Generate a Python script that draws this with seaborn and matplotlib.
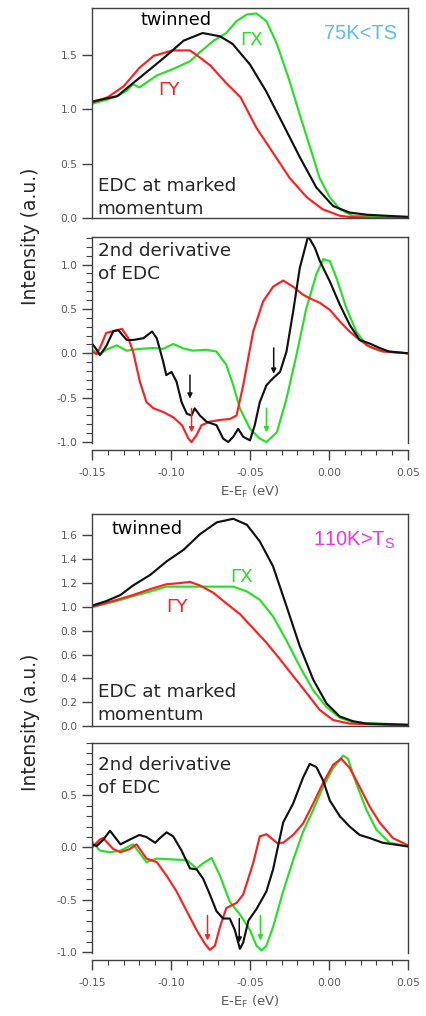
import numpy as np
import pandas as pd
import matplotlib
matplotlib.use("Agg")
import matplotlib.pyplot as plt
import seaborn as sns
from matplotlib.ticker import MultipleLocator, FormatStrFormatter

# ---------------- data ----------------
# Panel 1: EDC, 75K < Ts
p1_red_x = [-0.150, -0.140, -0.130, -0.120, -0.111, -0.099, -0.088, -0.084, -0.075, -0.065,
            -0.056, -0.046, -0.035, -0.025, -0.014, -0.004, 0.007, 0.013, 0.030, 0.050]
p1_red_y = [1.06, 1.11, 1.21, 1.38, 1.49, 1.54, 1.54, 1.50, 1.40, 1.24,
            1.11, 0.83, 0.59, 0.37, 0.19, 0.08, 0.02, 0.01, 0.00, 0.00]
p1_blk_x = [-0.150, -0.134, -0.124, -0.113, -0.103, -0.092, -0.080, -0.069, -0.061, -0.050,
            -0.040, -0.029, -0.0185, -0.008, 0.0026, 0.013, 0.024, 0.050]
p1_blk_y = [1.07, 1.12, 1.24, 1.37, 1.49, 1.63, 1.70, 1.67, 1.60, 1.41,
            1.17, 0.86, 0.56, 0.28, 0.11, 0.05, 0.03, 0.01]
p1_grn_x = [-0.150, -0.140, -0.134, -0.128, -0.124, -0.120, -0.109, -0.0986, -0.088, -0.082,
            -0.073, -0.065, -0.0585, -0.052, -0.046, -0.0396, -0.033, -0.025, -0.0185, -0.012,
            -0.006, 0.0005, 0.007, 0.015, 0.050]
p1_grn_y = [1.05, 1.09, 1.12, 1.17, 1.23, 1.20, 1.31, 1.37, 1.44, 1.52,
            1.63, 1.70, 1.81, 1.87, 1.88, 1.81, 1.60, 1.26, 0.95, 0.65,
            0.37, 0.19, 0.08, 0.02, 0.01]

# Panel 2: 2nd derivative, 75K
p2_blk_x = [-0.150, -0.147, -0.145, -0.141, -0.1365, -0.1333, -0.128, -0.124, -0.1175, -0.112,
            -0.109, -0.105, -0.103, -0.0996, -0.0965, -0.0933, -0.090, -0.087, -0.085, -0.0817,
            -0.0775, -0.0712, -0.067, -0.0638, -0.0606, -0.0575, -0.0543, -0.050, -0.047, -0.0438,
            -0.0396, -0.0354, -0.031, -0.0269, -0.0227, -0.0185, -0.0132, -0.009, -0.0058, 0.0005,
            0.0068, 0.0131, 0.0194, 0.0258, 0.032, 0.038, 0.050]
p2_blk_y = [0.11, 0.04, -0.02, 0.08, 0.25, 0.26, 0.15, 0.15, 0.17, 0.245,
            0.17, -0.09, -0.245, -0.21, -0.32, -0.55, -0.68, -0.70, -0.62, -0.70,
            -0.77, -0.81, -0.96, -1.00, -0.94, -0.85, -0.94, -0.98, -0.81, -0.55,
            -0.36, -0.28, -0.21, 0.02, 0.47, 0.96, 1.32, 1.19, 1.04, 0.81,
            0.55, 0.32, 0.15, 0.11, 0.06, 0.02, 0.00]
p2_red_x = [-0.150, -0.147, -0.145, -0.141, -0.1365, -0.131, -0.127, -0.124, -0.1197, -0.1155,
            -0.111, -0.105, -0.0986, -0.093, -0.089, -0.087, -0.0838, -0.0807, -0.0754, -0.069,
            -0.0628, -0.0585, -0.0543, -0.048, -0.0417, -0.0354, -0.029, -0.0227, -0.0164, -0.0122,
            -0.0059, 0.0005, 0.0068, 0.0131, 0.0194, 0.0258, 0.034, 0.050]
p2_red_y = [0.02, -0.01, 0.06, 0.23, 0.25, 0.275, 0.17, 0.02, -0.32, -0.55,
            -0.62, -0.66, -0.72, -0.81, -0.96, -1.00, -0.92, -0.81, -0.77, -0.75,
            -0.74, -0.70, -0.36, 0.245, 0.585, 0.75, 0.82, 0.75, 0.66, 0.62,
            0.57, 0.49, 0.36, 0.245, 0.15, 0.075, 0.02, 0.00]
p2_grn_x = [-0.150, -0.145, -0.141, -0.1344, -0.128, -0.1197, -0.111, -0.105, -0.0986, -0.0922,
            -0.086, -0.0775, -0.0712, -0.065, -0.0606, -0.0564, -0.050, -0.0438, -0.0396, -0.033,
            -0.0269, -0.0206, -0.0143, -0.008, -0.0037, 0.0005, 0.0047, 0.011, 0.0173, 0.0237,
            0.032, 0.050]
p2_grn_y = [0.04, -0.01, 0.04, 0.09, 0.03, 0.05, 0.06, 0.05, 0.105, 0.055,
            0.03, 0.04, 0.02, -0.13, -0.36, -0.62, -0.85, -0.96, -1.00, -0.89,
            -0.51, -0.02, 0.51, 0.89, 1.06, 1.04, 0.85, 0.51, 0.245, 0.09,
            0.03, 0.00]

# Panel 3: EDC, 110K > Ts
p3_blk_x = [-0.150, -0.1407, -0.132, -0.124, -0.113, -0.103, -0.092, -0.0817, -0.071, -0.0606,
            -0.052, -0.0438, -0.0354, -0.027, -0.0185, -0.010, -0.0016, 0.0068, 0.0152, 0.0237, 0.050]
p3_blk_y = [1.01, 1.05, 1.10, 1.18, 1.27, 1.38, 1.48, 1.61, 1.71, 1.74,
            1.69, 1.55, 1.34, 1.01, 0.67, 0.39, 0.19, 0.08, 0.04, 0.02, 0.01]
p3_red_x = [-0.150, -0.134, -0.124, -0.113, -0.103, -0.0944, -0.088, -0.0817, -0.0733, -0.065,
            -0.0564, -0.048, -0.0396, -0.031, -0.0227, -0.0143, -0.0059, 0.0026, 0.0131, 0.050]
p3_red_y = [1.00, 1.06, 1.10, 1.15, 1.19, 1.20, 1.21, 1.18, 1.12, 1.03,
            0.94, 0.82, 0.70, 0.56, 0.42, 0.28, 0.135, 0.05, 0.02, 0.005]
p3_grn_x = [-0.150, -0.134, -0.124, -0.113, -0.103, -0.0944, -0.086, -0.0775, -0.069, -0.0606,
            -0.052, -0.0438, -0.0354, -0.027, -0.0185, -0.010, -0.0016, 0.0068, 0.0152, 0.050]
p3_grn_y = [1.00, 1.05, 1.09, 1.13, 1.17, 1.17, 1.17, 1.17, 1.17, 1.17,
            1.13, 1.06, 0.92, 0.72, 0.50, 0.30, 0.16, 0.07, 0.03, 0.01]

# Panel 4: 2nd derivative, 110K
p4_blk_x = [-0.150, -0.147, -0.1428, -0.1386, -0.132, -0.126, -0.120, -0.1155, -0.110, -0.107,
            -0.1028, -0.0986, -0.0933, -0.088, -0.0838, -0.0796, -0.0754, -0.0712, -0.067, -0.0628,
            -0.0596, -0.0564, -0.0543, -0.051, -0.0459, -0.0396, -0.0354, -0.029, -0.0227, -0.0164,
            -0.0122, -0.008, -0.0037, 0.0005, 0.0068, 0.0131, 0.0194, 0.0258, 0.034, 0.050]
p4_blk_y = [0.03, 0.015, 0.076, 0.16, 0.03, 0.076, 0.12, 0.10, 0.045, 0.09,
            0.145, 0.106, -0.03, -0.20, -0.21, -0.30, -0.45, -0.61, -0.68, -0.68,
            -0.79, -0.97, -0.91, -0.70, -0.59, -0.42, -0.21, 0.24, 0.42, 0.67,
            0.80, 0.77, 0.64, 0.45, 0.30, 0.20, 0.12, 0.09, 0.045, 0.01]
p4_red_x = [-0.150, -0.145, -0.143, -0.1365, -0.132, -0.126, -0.1218, -0.1155, -0.109, -0.1028,
            -0.0965, -0.090, -0.0838, -0.0786, -0.0754, -0.0722, -0.069, -0.065, -0.0585, -0.0543,
            -0.048, -0.0438, -0.0396, -0.033, -0.029, -0.0227, -0.0164, -0.010, -0.0037, 0.0026,
            0.0078, 0.0131, 0.0194, 0.0258, 0.032, 0.0405, 0.050]
p4_red_y = [0.00, 0.076, 0.09, -0.015, -0.045, -0.015, 0.03, -0.106, -0.14, -0.27,
            -0.42, -0.61, -0.79, -0.92, -0.98, -0.94, -0.76, -0.58, -0.53, -0.45,
            -0.15, 0.106, 0.127, 0.045, 0.045, 0.12, 0.23, 0.42, 0.62, 0.79,
            0.85, 0.76, 0.58, 0.39, 0.24, 0.09, 0.02]
p4_grn_x = [-0.150, -0.145, -0.1386, -0.132, -0.124, -0.1155, -0.109, -0.0986, -0.090, -0.0838,
            -0.0796, -0.0743, -0.069, -0.0628, -0.0564, -0.050, -0.0459, -0.0427, -0.0396, -0.0354,
            -0.029, -0.0227, -0.0164, -0.010, -0.0037, 0.0026, 0.0089, 0.012, 0.0173, 0.0237,
            0.030, 0.0384, 0.050]
p4_grn_y = [0.055, -0.03, -0.045, -0.03, 0.03, -0.14, -0.106, -0.115, -0.12, -0.20,
            -0.15, -0.10, -0.27, -0.52, -0.64, -0.79, -0.94, -0.985, -0.94, -0.76,
            -0.42, -0.12, 0.15, 0.36, 0.58, 0.76, 0.88, 0.85, 0.61, 0.36,
            0.17, 0.045, 0.01]

# arrows (x, y_start, y_end, series)
p2_arrow_x = [-0.088, -0.035, -0.087, -0.0396]
p2_arrow_y0 = [-0.245, 0.06, -0.62, -0.62]
p2_arrow_y1 = [-0.51, -0.23, -0.89, -0.89]
p2_arrow_c = ["black", "black", "red", "green"]
p4_arrow_x = [-0.0769, -0.0568, -0.0434]
p4_arrow_y0 = [-0.65, -0.68, -0.65]
p4_arrow_y1 = [-0.89, -0.91, -0.89]
p4_arrow_c = ["red", "black", "green"]

x_ticks = [-0.15, -0.10, -0.05, 0.00, 0.05]

# ---------------- style ----------------
sns.set_theme(style="white")
plt.rcParams["font.family"] = ["DejaVu Sans"]
plt.rcParams["mathtext.default"] = "regular"
plt.rcParams["axes.unicode_minus"] = False

COL = {"black": "#111111", "red": "#ff1f1f", "green": "#25e025"}
SPINE = "#404040"
TICKLAB = "#5a5a5a"
TXT = "#262626"

W, H = 426, 1016
fig = plt.figure(figsize=(W / 100, H / 100), dpi=100)


def add_ax(top, bottom):
    return fig.add_axes([92 / W, 1 - bottom / H, 316 / W, (bottom - top) / H])


def draw(ax, series):
    rows = []
    for name, xs, ys in series:
        for xv, yv in zip(xs, ys):
            rows.append((name, xv, yv))
    df = pd.DataFrame(rows, columns=["series", "E", "I"])
    sns.lineplot(data=df, x="E", y="I", hue="series", palette=COL, estimator=None,
                 sort=False, legend=False, lw=1.55, ax=ax)
    ax.set_xlim(-0.15, 0.05)
    ax.set_xlabel("")
    ax.set_ylabel("")
    for s in ax.spines.values():
        s.set_color(SPINE)
        s.set_linewidth(1.0)
    ax.tick_params(axis="y", which="major", left=True, direction="out", length=7.5, width=1.0,
                   color=SPINE, labelsize=7.7, labelcolor=TICKLAB, pad=3)
    ax.tick_params(axis="y", which="minor", left=True, direction="out", length=4.5, width=0.8,
                   color=SPINE)


def edc_axes(ax):
    ax.tick_params(axis="x", which="both", bottom=False, labelbottom=False)
    ax.yaxis.set_major_formatter(FormatStrFormatter("%.1f"))


def deriv_axes(ax):
    ax.spines["bottom"].set_position(("outward", 5))
    ax.set_xticks(x_ticks)
    ax.xaxis.set_minor_locator(MultipleLocator(0.01))
    ax.xaxis.set_major_formatter(FormatStrFormatter("%.2f"))
    ax.tick_params(axis="x", which="major", bottom=True, direction="out", length=7, width=1.0,
                   color=SPINE, labelsize=7.7, labelcolor=TICKLAB, pad=6)
    ax.tick_params(axis="x", which="minor", bottom=True, direction="out", length=3.5, width=0.8,
                   color=SPINE)
    ax.set_yticks([-1.0, -0.5, 0.0, 0.5, 1.0])
    ax.yaxis.set_minor_locator(MultipleLocator(0.1))
    ax.yaxis.set_major_formatter(FormatStrFormatter("%.1f"))
    ax.set_xlabel("E-E$_F$ (eV)", fontsize=9.5, color=TICKLAB, labelpad=4)


def arrows(ax, xs, y0s, y1s, cs):
    for xv, a, b, c in zip(xs, y0s, y1s, cs):
        ax.annotate("", xy=(xv, b), xytext=(xv, a),
                    arrowprops=dict(arrowstyle="-|>", color=COL[c], lw=1.1,
                                    mutation_scale=7, shrinkA=0, shrinkB=0))


BIG = 13.2

# Panel 1
ax1 = add_ax(8, 218)
draw(ax1, [("green", p1_grn_x, p1_grn_y), ("red", p1_red_x, p1_red_y),
           ("black", p1_blk_x, p1_blk_y)])
ax1.set_ylim(0, 1.93)
ax1.set_yticks([0.0, 0.5, 1.0, 1.5])
edc_axes(ax1)
ax1.text(-0.097, 1.82, "twinned", color="black", fontsize=12.8, ha="center", va="center")
ax1.text(-0.049, 1.64, "ΓX", color=COL["green"], fontsize=BIG, ha="center", va="center")
ax1.text(-0.101, 1.18, "ΓY", color=COL["red"], fontsize=BIG, ha="center", va="center")
ax1.text(0.020, 1.70, "75K<TS", color="#5bbce9", fontsize=14.5, ha="center", va="center",
         family="Liberation Sans")
ax1.text(-0.1465, 0.19, "EDC at marked\nmomentum", color=TXT, fontsize=BIG,
         ha="left", va="center", linespacing=1.38)

# Panel 2
ax2 = add_ax(237, 443)
draw(ax2, [("green", p2_grn_x, p2_grn_y), ("red", p2_red_x, p2_red_y),
           ("black", p2_blk_x, p2_blk_y)])
ax2.set_ylim(-1.01, 1.31)
deriv_axes(ax2)
arrows(ax2, p2_arrow_x, p2_arrow_y0, p2_arrow_y1, p2_arrow_c)
ax2.text(-0.1465, 1.02, "2nd derivative\nof EDC", color=TXT, fontsize=BIG,
         ha="left", va="center", linespacing=1.38)

# Panel 3
ax3 = add_ax(514, 726)
draw(ax3, [("green", p3_grn_x, p3_grn_y), ("red", p3_red_x, p3_red_y),
           ("black", p3_blk_x, p3_blk_y)])
ax3.set_ylim(0, 1.78)
ax3.set_yticks([0.0, 0.2, 0.4, 0.6, 0.8, 1.0, 1.2, 1.4, 1.6])
edc_axes(ax3)
ax3.text(-0.115, 1.65, "twinned", color="black", fontsize=12.8, ha="center", va="center")
ax3.text(0.016, 1.56, "110K>T$_S$", color="#f030f0", fontsize=14.5, ha="center", va="center",
         family="Liberation Sans")
ax3.text(-0.055, 1.25, "ΓX", color=COL["green"], fontsize=BIG, ha="center", va="center")
ax3.text(-0.096, 1.00, "ΓY", color=COL["red"], fontsize=BIG, ha="center", va="center")
ax3.text(-0.1465, 0.19, "EDC at marked\nmomentum", color=TXT, fontsize=BIG,
         ha="left", va="center", linespacing=1.38)

# Panel 4
ax4 = add_ax(743, 953)
draw(ax4, [("green", p4_grn_x, p4_grn_y), ("red", p4_red_x, p4_red_y),
           ("black", p4_blk_x, p4_blk_y)])
ax4.set_ylim(-1.01, 0.91)
deriv_axes(ax4)
ax4.set_yticks([-1.0, -0.5, 0.0, 0.5])
arrows(ax4, p4_arrow_x, p4_arrow_y0, p4_arrow_y1, p4_arrow_c)
ax4.text(-0.1465, 0.68, "2nd derivative\nof EDC", color=TXT, fontsize=BIG,
         ha="left", va="center", linespacing=1.38)

# shared y labels
fig.text(31 / W, 1 - 236 / H, "Intensity (a.u.)", rotation=90, fontsize=13.5,
         color=TXT, ha="center", va="center")
fig.text(31 / W, 1 - 722 / H, "Intensity (a.u.)", rotation=90, fontsize=13.5,
         color=TXT, ha="center", va="center")

fig.savefig("out.png", dpi=100, facecolor="white")
